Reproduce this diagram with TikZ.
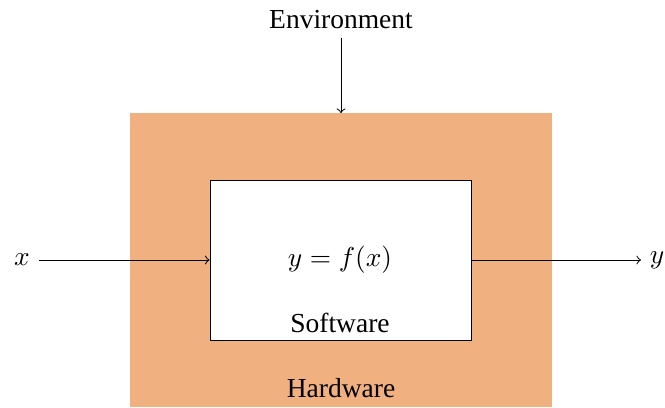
\documentclass[tikz,border=0pt]{standalone}
\usepackage{fontspec}
\setmainfont{Liberation Serif}
\definecolor{hwfill}{RGB}{241,176,128}
\begin{document}
\begin{tikzpicture}[x=0.4pt,y=-0.4pt,
  font=\fontsize{11}{13}\selectfont,
  flow/.style={->,>=to}]
\useasboundingbox (0,0) rectangle (665,407);
% hardware layer and the software box inside it
\fill[hwfill] (130,113) rectangle (552,407);
\coordinate (hwtop) at (341,113);
\node[draw,fill=white,minimum width=104.4pt,minimum height=64pt,inner sep=0] (sw) at (340.5,260) {};
% texts
\node (eq) at (340,260) {$y = f(x)$};
\node (swl) at (340,322.5) {Software};
\node (hwl) at (341,388) {Hardware};
\node (env) at (341,19.5) {Environment};
\node (xin) at (22,260) {$x$};
\node (yout) at (657,260) {$y$};
% signal arrows
\draw[flow] (env.south) -- (hwtop);
\draw[flow] (xin.east) -- (sw.west);
\draw[flow] (sw.east) -- (yout.west);
\end{tikzpicture}
\end{document}
